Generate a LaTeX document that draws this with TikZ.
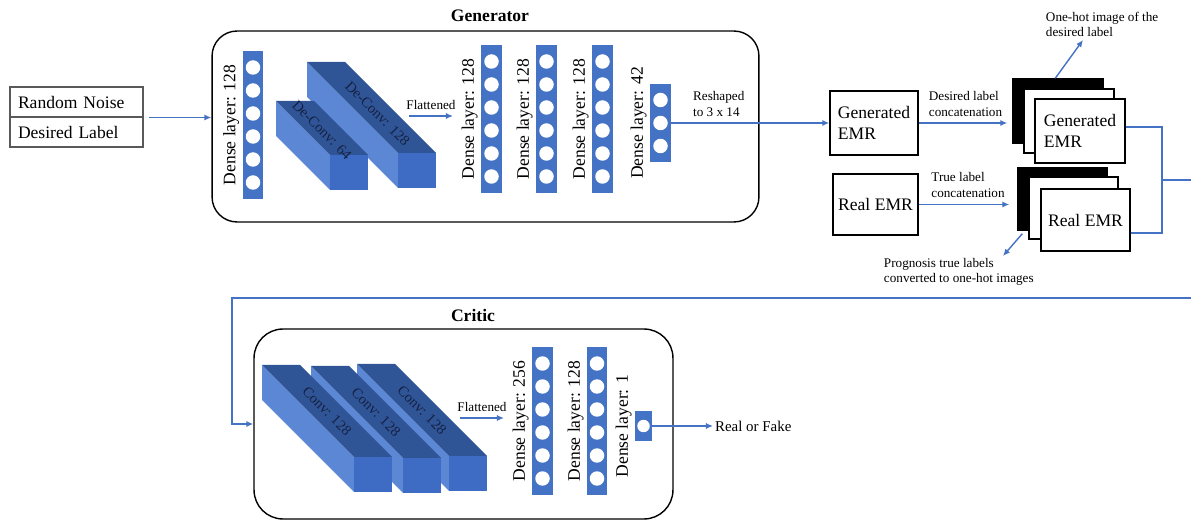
\documentclass[tikz,border=0pt]{standalone}
\usepackage{fontspec}
\setmainfont{Liberation Serif}
\usetikzlibrary{arrows.meta,calc,positioning}
\definecolor{barblue}{RGB}{68,114,196}
\definecolor{topblue}{RGB}{47,85,151}
\definecolor{sideblue}{RGB}{92,135,212}
\definecolor{frontblue}{RGB}{62,108,196}
\definecolor{lineblue}{RGB}{68,114,196}
\definecolor{convtext}{RGB}{22,32,66}
\tikzset{
  bar/.style={fill=barblue, inner sep=0pt, minimum width=0.42cm},
  unit/.style={circle, fill=white, inner sep=0pt, minimum size=0.29cm},
  denselbl/.style={rotate=90, anchor=south, inner sep=1.5pt, font=\fontsize{10}{12}\selectfont},
  panel/.style={draw, line width=0.8pt, rounded corners=0.5cm},
  inbox/.style={draw=gray!70!black, line width=0.6pt, minimum width=2.66cm, minimum height=0.6cm,
    text width=2.34cm, inner xsep=0.16cm, align=left, font=\fontsize{10}{12}\selectfont},
  emr/.style={draw, line width=0.8pt, fill=white, align=left, inner sep=0pt,
    font=\fontsize{10}{11.5}\selectfont},
  flow/.style={draw=lineblue, line width=0.8pt, -{Latex[length=4pt,width=3.5pt]}},
  wire/.style={draw=lineblue, line width=0.9pt},
  small/.style={font=\fontsize{7.5}{9}\selectfont, align=left, inner sep=1.5pt},
  lift/.style={yshift=0.07cm},
  title/.style={font=\bfseries\fontsize{10}{12}\selectfont},
  convlbl/.style={rotate=-45, text=convtext, font=\fontsize{8.3}{10}\selectfont}
}
\begin{document}
\begin{tikzpicture}[x=0.02cm,y=-0.02cm]
    \useasboundingbox (0,0) rectangle (1191,520);
    % input
    \node[inbox] (noise) at (76.5,102) {Random Noise};
    \node[inbox] (label) at (76.5,132) {Desired Label};
    % generator
    \node[panel, minimum width=10.94cm, minimum height=3.82cm] (gen) at (485.5,126.5) {};
    \node[title] (gentitle) at (490,16) {Generator};
    \draw[flow] ([xshift=0.1cm]noise.south east) -- (noise.south east -| gen.west);
    \foreach \fx/\fy/\d/\dx/\dy/\txt/\i in {398/153/91/6/6/{De-Conv: 128}/2, 330/155/54/0/2/{De-Conv: 64}/1} {
        \fill[sideblue] (\fx,\fy) -- (\fx,{\fy+35}) -- ({\fx-\d},{\fy+35-\d}) -- ({\fx-\d},{\fy-\d}) -- cycle;
        \fill[topblue] (\fx,\fy) -- ({\fx+38},\fy) -- ({\fx+38-\d},{\fy-\d}) -- ({\fx-\d},{\fy-\d}) -- cycle;
        \fill[frontblue] (\fx,\fy) rectangle ({\fx+38},{\fy+35});
        \node[convlbl] (deconv\i) at ({\fx+19-\d/2+\dx},{\fy-\d/2+\dy}) {\txt};
    }
    \coordinate (gf1) at (409,116);
    \coordinate (gf2) at (453,116);
    \draw[flow] (gf1) -- node[small, above, lift] (gflat) {Flattened} (gf2);
    \node[bar, minimum height=2.96cm] (g1) at (253,125) {};
    \node[bar, minimum height=2.96cm] (g2) at (491.5,119) {};
    \node[bar, minimum height=2.96cm] (g3) at (546.5,119) {};
    \node[bar, minimum height=2.96cm] (g4) at (602.5,119) {};
    \node[bar, minimum height=1.56cm] (g5) at (660.5,123) {};
    \foreach \b in {g1,g2,g3,g4}
        \foreach \k in {0,...,5}
            \node[unit] (\b-u\k) at ($(\b)+(0,{(\k-2.5)*23})$) {};
    \foreach \k in {0,1,2}
        \node[unit] (g5-u\k) at ($(g5)+(0,{(\k-1)*23})$) {};
    \node[denselbl] (g1l) at (g1.west) {Dense layer: 128};
    \node[denselbl] (g2l) at (g2.west) {Dense layer: 128};
    \node[denselbl] (g3l) at (g3.west) {Dense layer: 128};
    \node[denselbl] (g4l) at (g4.west) {Dense layer: 128};
    \node[denselbl] (g5l) at (g5.west) {Dense layer: 42};
    % EMR boxes
    \node[emr, minimum width=1.76cm, minimum height=1.28cm] (genemr) at (874,123) {Generated\\EMR};
    \node[emr, minimum width=1.7cm, minimum height=1.22cm] (realemr) at (875.5,204.5) {Real EMR};
    \draw[flow] (g5.east) -- node[small, above, lift, pos=0.3] (reshape) {Reshaped\\to 3 x 14} (g5.east -| genemr.west);
    \node[emr, fill=black, minimum width=1.8cm, minimum height=1.28cm] (gback) at (1058,111) {};
    \node[emr, minimum width=1.8cm, minimum height=1.28cm] (gmid) at (1069,121) {};
    \node[emr, minimum width=1.8cm, minimum height=1.28cm] (gfront) at (1080,131) {Generated\\EMR};
    \node[emr, fill=black, minimum width=1.78cm, minimum height=1.24cm] (rback) at (1062.5,199) {};
    \node[emr, minimum width=1.78cm, minimum height=1.24cm] (rmid) at (1073.5,208) {};
    \node[emr, minimum width=1.78cm, minimum height=1.24cm] (rfront) at (1085.5,220) {Real EMR};
    \draw[flow, shorten >=0.1cm] (genemr.east) -- node[small, above, lift] (desired) {Desired label\\concatenation} (genemr.east -| gback.west);
    \draw[flow, shorten >=0.16cm] (realemr.east) -- node[small, above, lift] (truelbl) {True label\\concatenation} (realemr.east -| rback.west);
    \coordinate (onehot) at (1083,40);
    \draw[flow] ($(gback.north west)!0.47!(gback.north east)$) -- (onehot);
    \node[small, anchor=south west] (onehotlbl) at (1043,40) {One-hot image of the\\desired label};
    \coordinate (progend) at (1003,256);
    \draw[flow] ([xshift=0.1cm,yshift=-0.06cm]rback.south west) -- (progend);
    \node[small, anchor=north west] (proglbl) at (881,255) {Prognosis true labels\\converted to one-hot images};
    % to the critic
    \coordinate (join) at (1162,180);
    \coordinate (edge) at (1202,180);
    \coordinate (turn) at (232,298);
    \draw[wire] ([yshift=0.08cm]gfront.east) -| (join) |- ([yshift=-0.26cm]rfront.east);
    \node[panel, rounded corners=0.58cm, minimum width=8.38cm, minimum height=3.8cm] (critic) at (463.5,424) {};
    \node[title] (crititle) at (473,315) {Critic};
    \draw[flow] (join) -- (edge) |- (turn) |- (critic.west);
    % critic
    \foreach \fx/\fy/\i in {449/456/3, 403/458/2, 354/457/1} {
        \fill[sideblue] (\fx,\fy) -- (\fx,{\fy+35}) -- ({\fx-92},{\fy+35-92}) -- ({\fx-92},{\fy-92}) -- cycle;
        \fill[topblue] (\fx,\fy) -- ({\fx+38},\fy) -- ({\fx+38-92},{\fy-92}) -- ({\fx-92},{\fy-92}) -- cycle;
        \fill[frontblue] (\fx,\fy) rectangle ({\fx+38},{\fy+35});
        \node[convlbl] (conv\i) at ({\fx+19-46},{\fy-46}) {Conv: 128};
    }
    \coordinate (cf1) at (460,418);
    \coordinate (cf2) at (504,418);
    \draw[flow] (cf1) -- node[small, above, lift] (cflat) {Flattened} (cf2);
    \node[bar, minimum height=2.96cm] (c1) at (542.5,421) {};
    \node[bar, minimum height=2.96cm, minimum width=0.4cm] (c2) at (597,421) {};
    \node[bar, minimum height=0.6cm, minimum width=0.34cm] (c3) at (643.5,426) {};
    \foreach \b in {c1,c2}
        \foreach \k in {0,...,5}
            \node[unit] (\b-u\k) at ($(\b)+(0,{(\k-2.5)*23})$) {};
    \node[unit, minimum size=0.25cm] (c3-u0) at (c3) {};
    \node[denselbl] (c1l) at (c1.west) {Dense layer: 256};
    \node[denselbl] (c2l) at (c2.west) {Dense layer: 128};
    \node[denselbl] (c3l) at (c3.west) {Dense layer: 1};
    \node[anchor=west, inner sep=1pt, font=\fontsize{8.5}{10}\selectfont] (rof) at (713,426) {Real or Fake};
    \draw[flow] (c3.east) -- (rof.west);
\end{tikzpicture}
\end{document}
